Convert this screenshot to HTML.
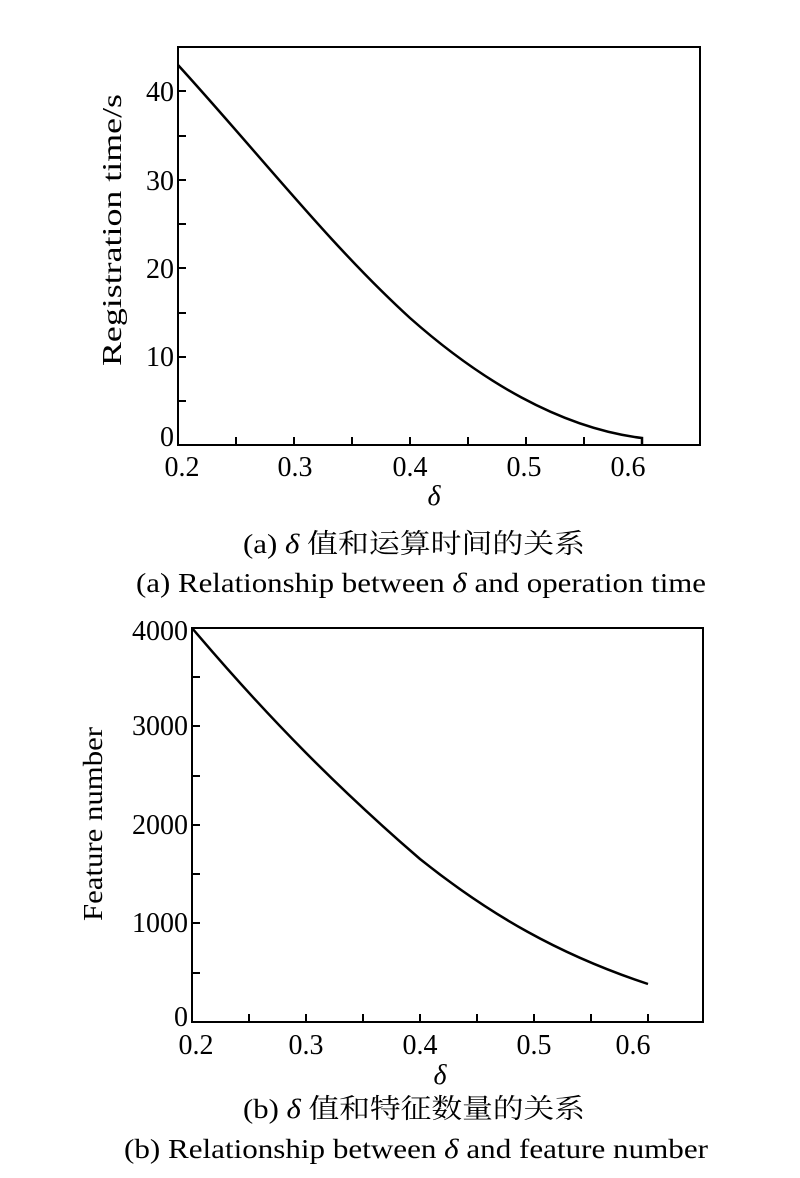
<!DOCTYPE html>
<html><head><meta charset="utf-8"><style>html,body{margin:0;padding:0;background:#fff}</style></head>
<body>
<svg width="800" height="1173" xmlns="http://www.w3.org/2000/svg" font-family="Liberation Serif, Noto Serif CJK SC, serif" fill="#000">
<!-- Top chart -->
<rect x="178" y="47" width="522" height="398" fill="none" stroke="#000" stroke-width="2"/>
<g stroke="#000" stroke-width="2">
<line x1="236" y1="445" x2="236" y2="437"/><line x1="294" y1="445" x2="294" y2="437"/><line x1="352" y1="445" x2="352" y2="437"/><line x1="410" y1="445" x2="410" y2="437"/><line x1="468" y1="445" x2="468" y2="437"/><line x1="526" y1="445" x2="526" y2="437"/><line x1="584" y1="445" x2="584" y2="437"/><line x1="642" y1="445" x2="642" y2="437"/>
<line x1="178" y1="401" x2="186" y2="401"/><line x1="178" y1="357" x2="186" y2="357"/><line x1="178" y1="313" x2="186" y2="313"/><line x1="178" y1="268" x2="186" y2="268"/><line x1="178" y1="224" x2="186" y2="224"/><line x1="178" y1="180" x2="186" y2="180"/><line x1="178" y1="136" x2="186" y2="136"/><line x1="178" y1="91" x2="186" y2="91"/>
</g>
<path fill="none" stroke="#000" stroke-width="2.5" d="M178,65 C260,155 330,245 410,318 C480,380 560,428 642,438 L642,445"/>
<g font-size="28" text-anchor="end">
<text x="174" y="446">0</text><text x="174" y="366">10</text><text x="174" y="278">20</text><text x="174" y="190">30</text><text x="174" y="101">40</text>
</g>
<g font-size="28" text-anchor="middle">
<text x="182" y="476">0.2</text><text x="295" y="476">0.3</text><text x="410" y="476">0.4</text><text x="524" y="476">0.5</text><text x="628" y="476">0.6</text>
<text x="434" y="505" font-style="italic">δ</text>
</g>
<text transform="translate(121,230) rotate(-90)" font-size="27" text-anchor="middle" textLength="272" lengthAdjust="spacingAndGlyphs">Registration time/s</text>
<text x="243" y="553" font-size="27" textLength="342" lengthAdjust="spacingAndGlyphs">(a) <tspan font-style="italic">δ</tspan> 值和运算时间的关系</text>
<text x="136" y="592" font-size="27" textLength="570" lengthAdjust="spacingAndGlyphs">(a) Relationship between  <tspan font-style="italic">δ</tspan> and  operation time</text>
<!-- Bottom chart -->
<rect x="192" y="628" width="511" height="394" fill="none" stroke="#000" stroke-width="2"/>
<g stroke="#000" stroke-width="2">
<line x1="249" y1="1022" x2="249" y2="1014"/><line x1="306" y1="1022" x2="306" y2="1014"/><line x1="363" y1="1022" x2="363" y2="1014"/><line x1="420" y1="1022" x2="420" y2="1014"/><line x1="477" y1="1022" x2="477" y2="1014"/><line x1="534" y1="1022" x2="534" y2="1014"/><line x1="591" y1="1022" x2="591" y2="1014"/><line x1="648" y1="1022" x2="648" y2="1014"/>
<line x1="192" y1="973" x2="200" y2="973"/><line x1="192" y1="923" x2="200" y2="923"/><line x1="192" y1="874" x2="200" y2="874"/><line x1="192" y1="825" x2="200" y2="825"/><line x1="192" y1="776" x2="200" y2="776"/><line x1="192" y1="726" x2="200" y2="726"/><line x1="192" y1="677" x2="200" y2="677"/>
</g>
<path fill="none" stroke="#000" stroke-width="2.5" d="M192,628 C270,720 340,790 420,859 C490,915 560,955 648,984"/>
<g font-size="28" text-anchor="end">
<text x="188" y="1026">0</text><text x="188" y="932">1000</text><text x="188" y="834">2000</text><text x="188" y="735">3000</text><text x="188" y="640">4000</text>
</g>
<g font-size="28" text-anchor="middle">
<text x="196" y="1054">0.2</text><text x="306" y="1054">0.3</text><text x="420" y="1054">0.4</text><text x="534" y="1054">0.5</text><text x="633" y="1054">0.6</text>
<text x="440" y="1084" font-style="italic">δ</text>
</g>
<text transform="translate(102,824) rotate(-90)" font-size="27" text-anchor="middle" textLength="194" lengthAdjust="spacingAndGlyphs">Feature number</text>
<text x="243" y="1118" font-size="27" textLength="342" lengthAdjust="spacingAndGlyphs">(b) <tspan font-style="italic">δ</tspan> 值和特征数量的关系</text>
<text x="124" y="1158" font-size="27" textLength="584" lengthAdjust="spacingAndGlyphs">(b) Relationship between  <tspan font-style="italic">δ</tspan>  and feature number</text>
</svg>
</body></html>
